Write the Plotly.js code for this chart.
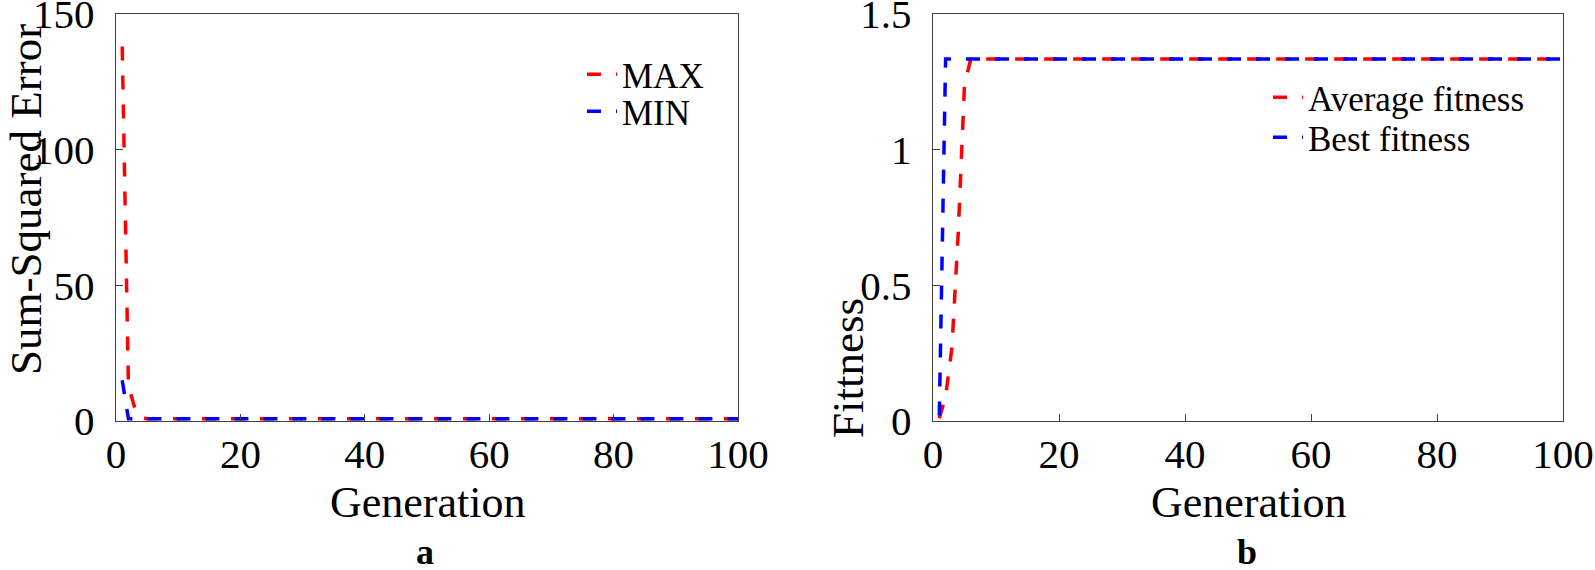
<!DOCTYPE html>
<html>
<head>
<meta charset="utf-8">
<script src="https://cdn.plot.ly/plotly-3.0.1.min.js"></script>
<style>html,body{margin:0;padding:0;background:#fff;}#chart{width:1595px;height:570px;}</style>
</head>
<body>
<div id="chart"></div>
<script>
// ---- data ----
// Panel a: Sum-Squared Error per generation
const genMax = [1, 2, 3, 4, 5, 100];
const sseMax = [138, 13, 5, 1.2, 0.8, 0.8];
const genMin = [1, 2, 100];
const sseMin = [15, 0.8, 0.8];
// Panel b: fitness per generation
const genAvg = [1, 2, 3, 4, 5, 6, 100];
const fitAvg = [0.01, 0.09, 0.27, 0.69, 1.24, 1.334, 1.334];
const genBest = [1, 2, 100];
const fitBest = [0.02, 1.334, 1.334];

const xTicks = [0, 20, 40, 60, 80, 100];
const yTicksA = [0, 50, 100, 150];
const yTicksB = [0, 0.5, 1, 1.5];
const namesA = ['MAX', 'MIN'];
const namesB = ['Average fitness', 'Best fitness'];

// ---- layout helpers ----
const W = 1595, H = 570;
const px = v => v / W;
const py = v => 1 - v / H;
const FONT = 'Liberation Serif, Times New Roman, serif';
const AX = '#404040';
const dash = '14px,15px';

const traces = [
  {x: genMax, y: sseMax, name: namesA[0], xaxis: 'x', yaxis: 'y', legend: 'legend',
   mode: 'lines', line: {color: '#ff0000', width: 3.5, dash: dash}},
  {x: genMin, y: sseMin, name: namesA[1], xaxis: 'x', yaxis: 'y', legend: 'legend2',
   mode: 'lines', line: {color: '#0000ff', width: 3.5, dash: dash}},
  {x: genAvg, y: fitAvg, name: namesB[0], xaxis: 'x2', yaxis: 'y2', legend: 'legend3',
   mode: 'lines', line: {color: '#ff0000', width: 3.5, dash: dash}},
  {x: genBest, y: fitBest, name: namesB[1], xaxis: 'x2', yaxis: 'y2', legend: 'legend4',
   mode: 'lines', line: {color: '#0000ff', width: 3.5, dash: dash}}
];

function xax(domain, anchor) {
  return {domain: domain, anchor: anchor, range: [0, 100], tickvals: xTicks,
    ticks: 'inside', ticklen: 7, tickwidth: 1, tickcolor: AX,
    showline: true, linecolor: AX, linewidth: 1.3, mirror: true,
    showgrid: false, zeroline: false, automargin: false,
    ticklabelstandoff: -4, ticklabeloverflow: 'allow',
    tickfont: {family: FONT, size: 41, color: '#000'}};
}
function yax(domain, anchor, range, vals) {
  return {domain: domain, anchor: anchor, range: range, tickvals: vals,
    ticks: 'inside', ticklen: 7, tickwidth: 1, tickcolor: AX,
    showline: true, linecolor: AX, linewidth: 1.3, mirror: true,
    showgrid: false, zeroline: false, automargin: false,
    ticklabelstandoff: 12, ticklabeloverflow: 'allow',
    tickfont: {family: FONT, size: 41, color: '#000'}};
}
function leg(xp, ytop) {
  return {x: px(xp), y: py(ytop), xanchor: 'left', yanchor: 'top',
    bgcolor: 'rgba(0,0,0,0)', borderwidth: 0,
    font: {family: FONT, size: 35, color: '#000'}};
}

const yDom = [py(421), py(14)];
const layout = {
  width: W, height: H,
  margin: {l: 0, r: 0, t: 0, b: 0},
  paper_bgcolor: '#fff', plot_bgcolor: '#fff',
  font: {family: FONT, color: '#000'},
  xaxis: xax([px(116), px(738)], 'y'),
  yaxis: yax(yDom, 'x', [0, 150], yTicksA),
  xaxis2: xax([px(933), px(1563)], 'y2'),
  yaxis2: yax(yDom, 'x2', [0, 1.5], yTicksB),
  showlegend: true,
  legend: leg(582, 45),
  legend2: leg(582, 82),
  legend3: leg(1268, 68),
  legend4: leg(1268, 108),
  annotations: [
    {text: 'Sum-Squared Error', xref: 'paper', yref: 'paper', x: px(26), y: py(200),
     xanchor: 'center', yanchor: 'middle', textangle: -90, showarrow: false,
     font: {family: FONT, size: 45, color: '#000'}},
    {text: 'Fittness', xref: 'paper', yref: 'paper', x: px(848), y: py(368),
     xanchor: 'center', yanchor: 'middle', textangle: -90, showarrow: false,
     font: {family: FONT, size: 45, color: '#000'}},
    {text: 'Generation', xref: 'paper', yref: 'paper', x: px(427), y: py(502),
     xanchor: 'center', yanchor: 'middle', showarrow: false,
     font: {family: FONT, size: 44, color: '#000'}},
    {text: 'Generation', xref: 'paper', yref: 'paper', x: px(1248), y: py(502),
     xanchor: 'center', yanchor: 'middle', showarrow: false,
     font: {family: FONT, size: 44, color: '#000'}},
    {text: '<b>a</b>', xref: 'paper', yref: 'paper', x: px(425), y: py(552),
     xanchor: 'center', yanchor: 'middle', showarrow: false,
     font: {family: FONT, size: 36, color: '#000'}},
    {text: '<b>b</b>', xref: 'paper', yref: 'paper', x: px(1247), y: py(552),
     xanchor: 'center', yanchor: 'middle', showarrow: false,
     font: {family: FONT, size: 36, color: '#000'}}
  ]
};

Plotly.newPlot('chart', traces, layout, {staticPlot: true, displayModeBar: false});
</script>
</body>
</html>
